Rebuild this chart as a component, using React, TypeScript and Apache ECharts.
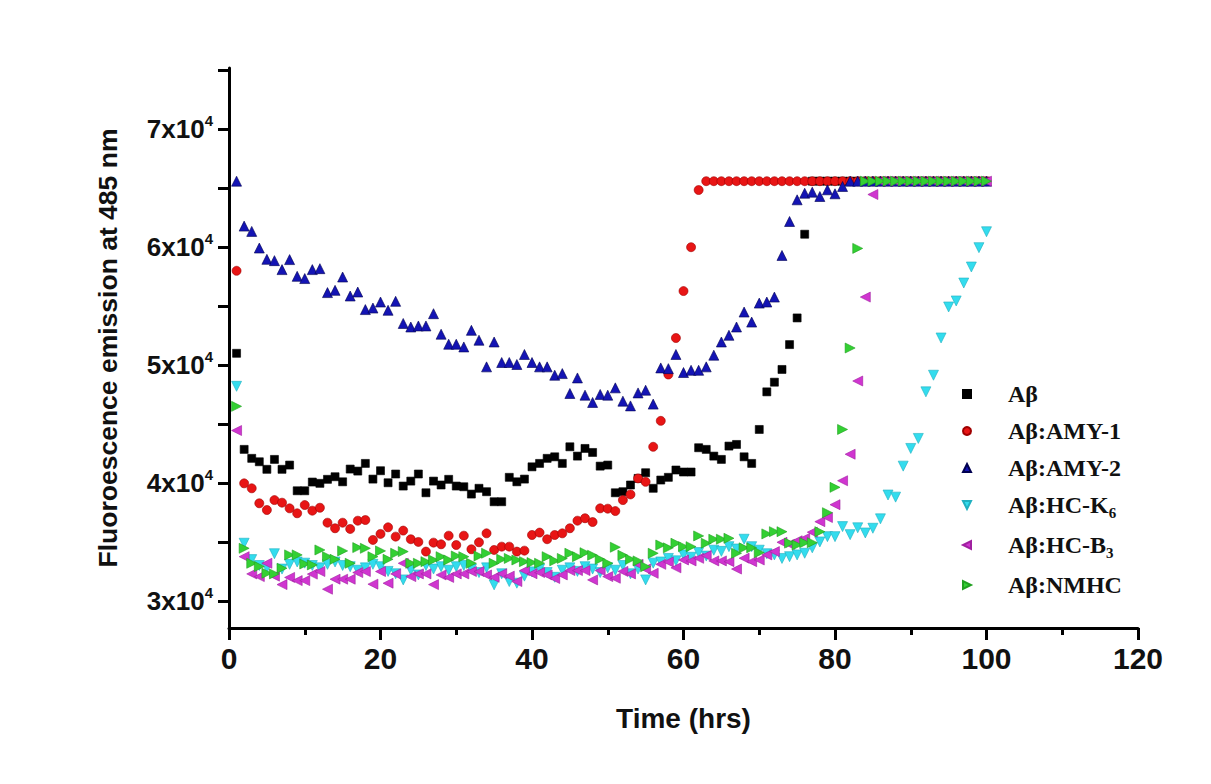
import React, { useEffect, useRef } from 'react';
import * as echarts from 'echarts';

// Sampling times (hours)
const hours: number[] = Array.from({ length: 100 }, (_, i) => i + 1);

const seriesNames = ['Aβ', 'Aβ:AMY-1', 'Aβ:AMY-2', 'Aβ:HC-K6', 'Aβ:HC-B3', 'Aβ:NMHC'];

const abeta = [
  51000, 42850, 42090, 41800, 41160, 42000, 41160, 41520, 39340, 39340,
  40080, 39970, 40310, 40530, 40100, 41180, 41010, 41660, 40330, 41040,
  40020, 40760, 39740, 40160, 40760, 39170, 40160, 39830, 40310, 39740,
  39680, 39060, 39550, 39260, 38410, 38410, 40480, 40100, 40330, 41370,
  41660, 42090, 42220, 41660, 43070, 42280, 42930, 42590, 41430, 41520,
  39170, 39260, 39830, 40390, 40870, 39550, 40250, 40480, 41100, 40930,
  40930, 42990, 42850, 42280, 42000, 43130, 43270, 42220, 41660, 44540,
  47730, 48550, 49630, 51740, 54000, 61100, 65600, 65600, 65600, 65600,
  65600, 65600, 65600, 65600, 65600, 65600, 65600, 65600, 65600, 65600,
  65600, 65600, 65600, 65600, 65600, 65600, 65600, 65600, 65600, 65600,
];

const amy1 = [
  58000, 39970, 39550, 38280, 37710, 38550, 38330, 37850, 37430, 38130,
  37650, 37900, 36630, 36160, 36630, 36100, 36800, 36860, 35170, 35680,
  36240, 35450, 35960, 35230, 35000, 34180, 34940, 34800, 35530, 34740,
  35530, 34380, 34970, 35730, 34320, 34600, 34600, 34180, 34260, 35590,
  35790, 35230, 35590, 35730, 36160, 36800, 37010, 36690, 37850, 37820,
  37620, 38550, 39030, 40390, 40100, 43070, 45270, 49200, 52300, 56280,
  60000, 64850, 65600, 65600, 65600, 65600, 65600, 65600, 65600, 65600,
  65600, 65600, 65600, 65600, 65600, 65600, 65600, 65600, 65600, 65600,
  65600, 65600, 65600, 65600, 65600, 65600, 65600, 65600, 65600, 65600,
  65600, 65600, 65600, 65600, 65600, 65600, 65600, 65600, 65600, 65600,
];

const amy2 = [
  65600, 61790, 61340, 59930, 58970, 58860, 58100, 58950, 57530, 57340,
  58100, 58180, 56150, 56340, 57470, 55860, 56200, 54710, 54840, 55350,
  54650, 55410, 53530, 53230, 53320, 53320, 54360, 52620, 51770, 51770,
  51540, 52950, 52110, 49850, 51960, 50220, 50220, 50050, 50900, 50220,
  49850, 49850, 49140, 49280, 47590, 48910, 47450, 46830, 47510, 47450,
  48070, 46940, 46540, 47640, 47870, 46690, 49760, 49700, 50900, 49370,
  49560, 49560, 49850, 50840, 51960, 52530, 53230, 54500, 53650, 55260,
  55350, 55770, 59300, 62180, 64020, 64580, 64670, 64300, 64870, 64530,
  65150, 65600, 65600, 65600, 65600, 65600, 65600, 65600, 65600, 65600,
  65600, 65600, 65600, 65600, 65600, 65600, 65600, 65600, 65600, 65600,
];

const hcK6 = [
  48200, 34890, 33500, 33000, 32800, 34000, 32700, 33100, 33300, 33200,
  33000, 32800, 33100, 33300, 33000, 32900, 32600, 32800, 33100, 32900,
  32500, 32300, 31780, 32600, 32200, 33000, 32700, 32900, 32600, 32900,
  33000, 32700, 32400, 32800, 31360, 32300, 31640, 31500, 32100, 32460,
  32700, 32400, 32000, 32600, 32800, 32500, 32900, 32700, 32400, 32800,
  32600, 33000, 32300, 32700, 31780, 33200, 33300, 33600, 33400, 33900,
  33700, 34100, 33800, 34300, 34200, 34600, 34400, 35230, 34600, 34300,
  34000, 33900, 33600, 33750, 33900, 34040, 34500, 35000, 35450, 35450,
  36300, 35620, 36200, 35760, 36160, 36960, 38980, 38800, 41430, 42930,
  43780, 47730, 49140, 52300, 54930, 55440, 56960, 58320, 59960, 61310,
];

const hcB3 = [
  44450, 33750, 32290, 32060, 33190, 32100, 31380, 31990, 31720, 31720,
  32270, 32490, 30990, 31840, 31840, 31840, 32400, 32490, 31420, 32490,
  31500, 32290, 33190, 32060, 32290, 32290, 31380, 32200, 31990, 32290,
  32290, 32490, 32490, 32200, 32000, 32300, 32100, 31640, 32570, 32300,
  32400, 32200, 31900, 32200, 32570, 32570, 32570, 31780, 32570, 32060,
  31920, 32500, 32290, 33100, 32700, 32340, 33100, 33300, 32800, 33470,
  33390, 33610, 33840, 33390, 33390, 33330, 32700, 33620, 33330, 33470,
  33900, 34180, 34970, 34800, 35100, 35300, 35830, 36720, 37070, 38160,
  40190, 42440, 48650, 55770, 64470, 65600, 65600, 65600, 65600, 65600,
  65600, 65600, 65600, 65600, 65600, 65600, 65600, 65600, 65600, 65600,
];

const nmhc = [
  46500, 34460, 33190, 32910, 32340, 32290, 32770, 33900, 33900, 33130,
  33050, 34320, 33750, 33530, 34240, 33190, 34520, 34460, 33750, 34240,
  33530, 34040, 34180, 33190, 33190, 33330, 33470, 33750, 33470, 33810,
  33750, 33190, 33810, 34040, 33190, 33530, 33600, 33470, 33330, 33250,
  33190, 33750, 33400, 33600, 34040, 33750, 34090, 33870, 33530, 33190,
  34550, 33870, 33530, 33390, 32900, 34040, 34740, 34500, 34890, 34600,
  34600, 35510, 34890, 35230, 35230, 35310, 34040, 34500, 34500, 34090,
  35680, 35870, 35870, 34900, 34740, 34940, 34940, 35870, 37480, 39630,
  44540, 51450, 59900, 65600, 65600, 65600, 65600, 65600, 65600, 65600,
  65600, 65600, 65600, 65600, 65600, 65600, 65600, 65600, 65600, 65600,
];

const yTickValues = [30000, 35000, 40000, 45000, 50000, 55000, 60000, 65000, 70000, 75000];
const yLabelValues = [30000, 40000, 50000, 60000, 70000];

const SANS = '"Liberation Sans", Arial, sans-serif';
const SERIF = '"Liberation Serif", "Times New Roman", serif';

const TRI_DOWN = 'path://M0,0L10,0L5,10Z';
const TRI_LEFT = 'path://M10,0L10,10L0,5Z';
const TRI_RIGHT = 'path://M0,0L0,10L10,5Z';

export default function App() {
  const ref = useRef<HTMLDivElement>(null);

  useEffect(() => {
    if (!ref.current) return;
    const chart = echarts.init(ref.current, null, { renderer: 'svg' });

    const allValues = [abeta, amy1, amy2, hcK6, hcB3, nmhc];
    const styles = [
      { symbol: 'rect', size: 8, color: '#000000', border: '#000000' },
      { symbol: 'circle', size: 9, color: '#e81515', border: '#a00000' },
      { symbol: 'triangle', size: 10, color: '#1414b4', border: '#000050' },
      { symbol: TRI_DOWN, size: 10, color: '#33dcee', border: '#20b0c0' },
      { symbol: TRI_LEFT, size: 10, color: '#d035d0', border: '#a020a0' },
      { symbol: TRI_RIGHT, size: 10, color: '#33d033', border: '#20a020' },
    ];

    const series = seriesNames.map((name, si) => ({
      name,
      type: 'scatter',
      data: hours.map((h, i) => [h, allValues[si][i]]),
      symbol: styles[si].symbol,
      symbolSize: styles[si].size,
      itemStyle: { color: styles[si].color, borderColor: styles[si].border, borderWidth: 0.6, opacity: 1 },
      emphasis: { disabled: true },
    }));

    const legendRich = {
      t: { fontFamily: SERIF, fontWeight: 'bold', fontSize: 24, color: '#111', lineHeight: 30 },
      s: { fontFamily: SERIF, fontWeight: 'bold', fontSize: 15, color: '#111', lineHeight: 30, verticalAlign: 'bottom' },
    };

    const option = {
      animation: false,
      backgroundColor: '#ffffff',
      grid: { left: 229, right: 73, top: 68, bottom: 156 },
      xAxis: {
        type: 'value',
        min: 0,
        max: 120,
        interval: 20,
        name: 'Time (hrs)',
        nameLocation: 'middle',
        nameGap: 76,
        nameTextStyle: { fontFamily: SANS, fontWeight: 'bold', fontSize: 28, color: '#111' },
        axisLine: { show: true, lineStyle: { color: '#000', width: 3 } },
        axisTick: { show: true, inside: false, length: 12, lineStyle: { color: '#000', width: 3 } },
        minorTick: { show: true, splitNumber: 2, length: 7, lineStyle: { color: '#000', width: 3 } },
        axisLabel: { fontFamily: SANS, fontWeight: 'bold', fontSize: 30, color: '#111', margin: 15 },
        splitLine: { show: false },
      },
      yAxis: {
        type: 'value',
        min: 27700,
        max: 75200,
        name: 'Fluoroescence emission at 485 nm',
        nameLocation: 'middle',
        nameGap: 108,
        nameRotate: 90,
        nameTextStyle: { fontFamily: SANS, fontWeight: 'bold', fontSize: 26.5, color: '#111' },
        axisLine: { show: true, lineStyle: { color: '#000', width: 3 } },
        axisTick: { show: true, inside: false, length: 11, customValues: yTickValues, lineStyle: { color: '#000', width: 3 } },
        axisLabel: {
          customValues: yLabelValues,
          margin: 16,
          formatter: (v: number) => `{a|${Math.round(v / 10000)}x10}{b|4}`,
          rich: {
            a: { fontFamily: SANS, fontWeight: 'bold', fontSize: 26, color: '#111', lineHeight: 32 },
            b: { fontFamily: SANS, fontWeight: 'bold', fontSize: 15, color: '#111', lineHeight: 32, verticalAlign: 'top' },
          },
        },
        splitLine: { show: false },
      },
      legend: {
        orient: 'vertical',
        left: 957,
        top: 377,
        itemWidth: 8,
        itemHeight: 8,
        itemGap: 13,
        selectedMode: false,
        data: seriesNames,
        textStyle: { fontFamily: SERIF, fontWeight: 'bold', fontSize: 24, color: '#111', padding: [0, 0, 0, 32], rich: legendRich },
        formatter: (name: string) => {
          if (name === 'Aβ:HC-K6') return '{t|Aβ:HC-K}{s|6}';
          if (name === 'Aβ:HC-B3') return '{t|Aβ:HC-B}{s|3}';
          return `{t|${name}}`;
        },
      },
      series,
    };

    chart.setOption(option as any);
    return () => chart.dispose();
  }, []);

  return <div ref={ref} style={{ position: 'fixed', left: 0, top: 0, width: 1211, height: 784, background: '#fff' }} />;
}
